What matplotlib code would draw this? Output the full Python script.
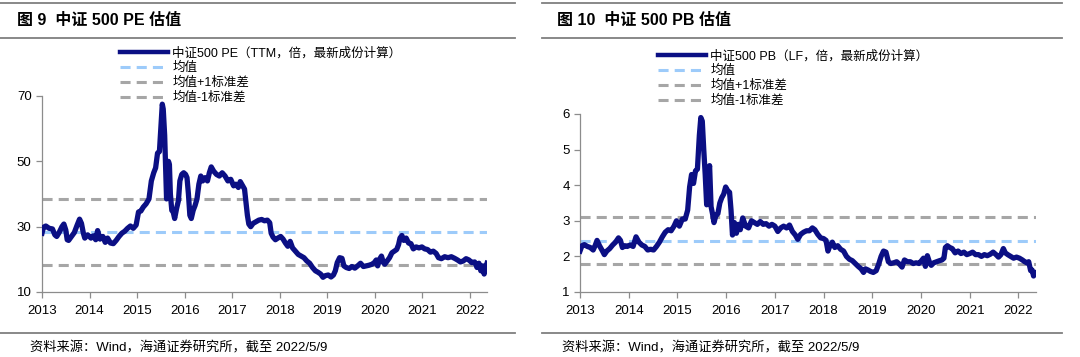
import matplotlib.pyplot as plt
from matplotlib.lines import Line2D

# ================= 数据 =================
pe_t = [2013.00, 2013.03, 2013.08, 2013.15, 2013.22, 2013.27, 2013.31, 2013.36, 2013.42, 2013.46,
        2013.50, 2013.53, 2013.56, 2013.62, 2013.68, 2013.74, 2013.79, 2013.83, 2013.87, 2013.90,
        2013.96, 2014.03, 2014.08, 2014.13, 2014.17, 2014.22, 2014.28, 2014.33, 2014.38, 2014.44,
        2014.50, 2014.56, 2014.62, 2014.68, 2014.74, 2014.80, 2014.86, 2014.92, 2014.98, 2015.03,
        2015.08, 2015.13, 2015.19, 2015.25, 2015.30, 2015.35, 2015.39, 2015.43, 2015.47, 2015.50,
        2015.53, 2015.55, 2015.58, 2015.60, 2015.62, 2015.645, 2015.66, 2015.68, 2015.70, 2015.73,
        2015.76, 2015.79, 2015.83, 2015.87, 2015.90, 2015.94, 2015.98, 2016.02, 2016.05, 2016.08,
        2016.11, 2016.14, 2016.18, 2016.22, 2016.26, 2016.30, 2016.34, 2016.38, 2016.43, 2016.48,
        2016.52, 2016.56, 2016.61, 2016.67, 2016.73, 2016.79, 2016.85, 2016.91, 2016.97, 2017.03,
        2017.08, 2017.13, 2017.17, 2017.22, 2017.26, 2017.29, 2017.32, 2017.35, 2017.39, 2017.44,
        2017.50, 2017.56, 2017.62, 2017.68, 2017.74, 2017.79, 2017.82, 2017.86, 2017.91, 2017.96,
        2018.02, 2018.07, 2018.12, 2018.17, 2018.22, 2018.27, 2018.33, 2018.39, 2018.45, 2018.51,
        2018.57, 2018.63, 2018.69, 2018.75, 2018.81, 2018.86, 2018.91, 2018.96, 2019.02, 2019.08,
        2019.13, 2019.17, 2019.21, 2019.26, 2019.31, 2019.35, 2019.40, 2019.46, 2019.52, 2019.58,
        2019.64, 2019.70, 2019.76, 2019.82, 2019.88, 2019.94, 2019.99, 2020.03, 2020.06, 2020.10,
        2020.14, 2020.18, 2020.21, 2020.26, 2020.31, 2020.36, 2020.41, 2020.46, 2020.50, 2020.53,
        2020.57, 2020.61, 2020.66, 2020.71, 2020.76, 2020.81, 2020.87, 2020.93, 2020.99, 2021.05,
        2021.11, 2021.17, 2021.23, 2021.29, 2021.34, 2021.40, 2021.47, 2021.54, 2021.61, 2021.68,
        2021.74, 2021.80, 2021.86, 2021.92, 2021.98, 2022.04, 2022.10, 2022.15, 2022.19, 2022.23,
        2022.27, 2022.30, 2022.33, 2022.36]
pe_v = [28.0, 29.8, 30.2, 29.5, 29.3, 27.5, 27.0, 28.2, 30.0, 30.8,
        29.0, 26.0, 25.8, 27.0, 28.2, 30.5, 32.3, 31.0, 28.0, 26.5,
        27.5, 26.5, 27.2, 26.0, 28.8, 26.2, 27.0, 25.2, 26.5, 25.0,
        24.8, 25.8, 27.0, 28.0, 28.6, 29.5, 30.2, 29.5, 30.5, 34.5,
        34.8, 36.0, 37.0, 38.5, 44.0, 46.5, 48.0, 52.5, 53.0, 60.0,
        67.5, 66.0, 58.0, 48.0, 38.5, 44.0, 50.0, 49.0, 40.0, 35.0,
        34.5, 32.5, 35.5, 38.0, 44.0, 46.0, 46.5, 46.0, 45.0, 40.0,
        33.5, 32.5, 35.0, 36.5, 38.5, 43.0, 45.5, 44.0, 45.0, 44.0,
        46.5, 48.3, 47.0, 46.0, 45.5, 46.5, 45.5, 44.0, 44.5, 42.5,
        43.0, 42.0, 43.8, 42.5, 41.5, 37.5, 33.5, 30.8, 30.0, 31.0,
        31.5, 32.0, 32.2, 31.8, 32.0, 31.2, 28.0, 26.8, 26.0, 26.5,
        27.0, 26.2, 25.0, 24.0, 25.5, 23.5, 22.5, 21.5, 21.0, 20.5,
        19.5, 18.8, 17.5, 16.5, 16.0, 15.5, 14.5, 15.0, 15.2, 14.6,
        15.2, 16.5, 19.0, 20.5, 20.3, 18.0, 17.5, 17.2, 17.8, 17.3,
        18.0, 18.8, 17.8, 18.0, 18.2, 18.5, 19.0, 19.8, 18.0, 20.0,
        21.0, 19.0, 18.5, 19.5, 20.5, 22.0, 22.5, 23.0, 24.5, 26.5,
        27.3, 25.8, 26.5, 25.0, 24.8, 23.2, 23.8, 23.5, 23.8, 23.2,
        23.0, 22.2, 22.5, 21.8, 20.5, 20.2, 20.8, 20.5, 20.8, 20.3,
        19.8, 19.2, 19.5, 20.2, 19.8, 19.0, 19.2, 17.5, 18.8, 16.5,
        18.0, 15.5, 17.5, 18.8]

pb_t = [2013.00, 2013.04, 2013.09, 2013.15, 2013.21, 2013.27, 2013.31, 2013.35, 2013.40, 2013.45,
        2013.50, 2013.55, 2013.61, 2013.67, 2013.73, 2013.79, 2013.83, 2013.87, 2013.92, 2013.97,
        2014.03, 2014.09, 2014.15, 2014.21, 2014.27, 2014.33, 2014.39, 2014.45, 2014.51, 2014.57,
        2014.63, 2014.69, 2014.75, 2014.81, 2014.87, 2014.93, 2014.98, 2015.04, 2015.10, 2015.16,
        2015.21, 2015.25, 2015.29, 2015.33, 2015.37, 2015.41, 2015.45, 2015.48, 2015.51, 2015.54,
        2015.57, 2015.60, 2015.63, 2015.66, 2015.69, 2015.72, 2015.75, 2015.79, 2015.83, 2015.87,
        2015.91, 2015.95, 2015.99, 2016.03, 2016.07, 2016.10, 2016.13, 2016.17, 2016.21, 2016.25,
        2016.29, 2016.34, 2016.40, 2016.46, 2016.52, 2016.58, 2016.64, 2016.70, 2016.76, 2016.82,
        2016.88, 2016.94, 2017.00, 2017.06, 2017.12, 2017.18, 2017.24, 2017.30, 2017.36, 2017.42,
        2017.47, 2017.53, 2017.59, 2017.65, 2017.71, 2017.77, 2017.82, 2017.88, 2017.94, 2018.00,
        2018.05, 2018.09, 2018.13, 2018.18, 2018.23, 2018.29, 2018.35, 2018.41, 2018.47, 2018.53,
        2018.59, 2018.65, 2018.71, 2018.77, 2018.82, 2018.86, 2018.91, 2018.96, 2019.02, 2019.08,
        2019.13, 2019.18, 2019.23, 2019.28, 2019.33, 2019.38, 2019.44, 2019.50, 2019.56, 2019.61,
        2019.66, 2019.72, 2019.78, 2019.84, 2019.90, 2019.96, 2020.01, 2020.05, 2020.09, 2020.13,
        2020.17, 2020.21, 2020.26, 2020.32, 2020.38, 2020.43, 2020.47, 2020.50, 2020.54, 2020.59,
        2020.64, 2020.70, 2020.76, 2020.82, 2020.88, 2020.94, 2021.00, 2021.06, 2021.12, 2021.18,
        2021.24, 2021.30, 2021.36, 2021.42, 2021.48, 2021.54, 2021.59, 2021.64, 2021.69, 2021.73,
        2021.78, 2021.84, 2021.90, 2021.96, 2022.02, 2022.08, 2022.13, 2022.17, 2022.21, 2022.25,
        2022.28, 2022.31, 2022.34, 2022.36]
pb_v = [2.15, 2.30, 2.33, 2.28, 2.25, 2.18, 2.30, 2.45, 2.30, 2.18,
        2.05, 2.15, 2.22, 2.32, 2.40, 2.52, 2.45, 2.25, 2.30, 2.28,
        2.32, 2.28, 2.55, 2.40, 2.32, 2.28, 2.18, 2.20, 2.18, 2.28,
        2.40, 2.55, 2.68, 2.75, 2.72, 2.85, 3.00, 2.85, 3.05, 3.05,
        3.30, 3.95, 4.30, 4.05, 4.40, 4.45, 5.40, 5.90, 5.80, 5.00,
        4.30, 3.45, 4.20, 4.55, 3.40, 3.20, 2.95, 3.15, 3.20, 3.50,
        3.65, 3.75, 3.95, 3.85, 3.80, 3.30, 2.60, 2.95, 2.65, 2.90,
        2.75, 3.08, 2.85, 2.80, 3.00, 2.95, 2.90, 2.98, 2.90, 2.92,
        2.85, 2.90, 2.85, 2.70, 2.80, 2.85, 2.80, 2.88, 2.70, 2.60,
        2.48, 2.62, 2.68, 2.72, 2.72, 2.80, 2.75, 2.62, 2.52, 2.50,
        2.45, 2.15, 2.30, 2.40, 2.25, 2.30, 2.20, 2.15, 2.00, 1.92,
        1.88, 1.80, 1.72, 1.65, 1.55, 1.65, 1.62, 1.58, 1.55, 1.60,
        1.78, 2.00, 2.15, 2.12, 1.85, 1.80, 1.82, 1.85, 1.78, 1.70,
        1.90, 1.85, 1.85, 1.80, 1.82, 1.80, 1.88, 1.95, 1.72, 2.02,
        1.85, 1.75, 1.82, 1.85, 1.88, 1.90, 1.95, 2.25, 2.30, 2.25,
        2.22, 2.10, 2.15, 2.08, 2.12, 2.05, 2.08, 2.12, 2.05, 2.05,
        2.00, 2.05, 2.02, 2.06, 2.12, 2.05, 1.98, 2.05, 2.22, 2.10,
        2.05, 2.00, 1.95, 1.98, 1.95, 1.90, 1.85, 1.82, 1.85, 1.60,
        1.62, 1.45, 1.55, 1.55]

pe_mean, pe_std = 28.5, 10.1
pb_mean, pb_std = 2.44, 0.66

years = list(range(2013, 2023))
pe_ticks = [10, 30, 50, 70]
pb_ticks = [1, 2, 3, 4, 5, 6]

titles = ["图 9  中证 500 PE 估值", "图 10  中证 500 PB 估值"]
labels_pe = ["中证500 PE（TTM，倍，最新成份计算）", "均值", "均值+1标准差", "均值-1标准差"]
labels_pb = ["中证500 PB（LF，倍，最新成份计算）", "均值", "均值+1标准差", "均值-1标准差"]
source = "资料来源：Wind，海通证券研究所，截至 2022/5/9"

# ================= 风格 =================
plt.rcParams['font.family'] = ['Liberation Sans', 'Noto Sans CJK SC']
NAVY = '#0B0F84'
LIGHT = '#9DCBFA'
GREY = '#A6A6A6'
SPINE = '#8C8C8C'

fig = plt.figure(figsize=(10.8, 3.57), dpi=100, facecolor='white')


def panel(rect, t, v, mean, std, yticks, ylim, labels, leg_xy):
    ax = fig.add_axes(rect)
    x0, x1 = 2013, 2022.36
    ax.plot(t, v, color=NAVY, lw=3.8, solid_joinstyle='round', zorder=3)
    dash = (0, (3.3, 2.0))
    ax.plot([x0, x1], [mean, mean], color=LIGHT, lw=2.2, ls=dash, zorder=2)
    ax.plot([x0, x1], [mean + std] * 2, color=GREY, lw=2.2, ls=dash, zorder=2)
    ax.plot([x0, x1], [mean - std] * 2, color=GREY, lw=2.2, ls=dash, zorder=2)
    ax.set_xlim(x0, x1)
    ax.set_ylim(*ylim)
    ax.set_xticks(years)
    ax.set_xticklabels([str(y) for y in years])
    ax.set_yticks(yticks)
    for s in ['top', 'right']:
        ax.spines[s].set_visible(False)
    for s in ['left', 'bottom']:
        ax.spines[s].set_color(SPINE)
        ax.spines[s].set_linewidth(0.9)
    ax.tick_params(axis='both', colors=SPINE, labelcolor='black', labelsize=9.5,
                   length=4, width=0.9, direction='out')
    ax.tick_params(axis='x', pad=5)
    handles = [Line2D([], [], color=NAVY, lw=3.2),
               Line2D([], [], color=LIGHT, lw=2.2, ls=dash),
               Line2D([], [], color=GREY, lw=2.2, ls=dash),
               Line2D([], [], color=GREY, lw=2.2, ls=dash)]
    fig.legend(handles, labels, loc='upper left', bbox_to_anchor=leg_xy,
               bbox_transform=fig.transFigure, frameon=False, fontsize=9,
               handlelength=3.8, handletextpad=0.4, labelspacing=0.22,
               borderpad=0, borderaxespad=0)
    return ax


panel([42 / 1080, 1 - 292 / 357, 445 / 1080, 196 / 357], pe_t, pe_v, pe_mean, pe_std,
      pe_ticks, (10, 70), labels_pe, (120 / 1080, 1 - 47 / 357))
panel([580 / 1080, 1 - 292 / 357, 456 / 1080, 178 / 357], pb_t, pb_v, pb_mean, pb_std,
      pb_ticks, (1, 6), labels_pb, (658 / 1080, 1 - 50 / 357))

# 标题、分隔线、资料来源
for x0, x1, tx in [(0.0, 515, 17), (542, 1062, 557)]:
    for yy in [3, 38, 333]:
        fig.add_artist(Line2D([x0 / 1080, x1 / 1080], [1 - yy / 357] * 2,
                              color='#7F7F7F', lw=1.3))
fig.text(17 / 1080, 1 - 20 / 357, titles[0], fontsize=11.5, fontweight='bold', va='center')
fig.text(557 / 1080, 1 - 20 / 357, titles[1], fontsize=11.5, fontweight='bold', va='center')
fig.text(30 / 1080, 1 - 348 / 357, source, fontsize=9.5, va='center')
fig.text(562 / 1080, 1 - 348 / 357, source, fontsize=9.5, va='center')

fig.savefig('out.png', dpi=100, facecolor='white')
